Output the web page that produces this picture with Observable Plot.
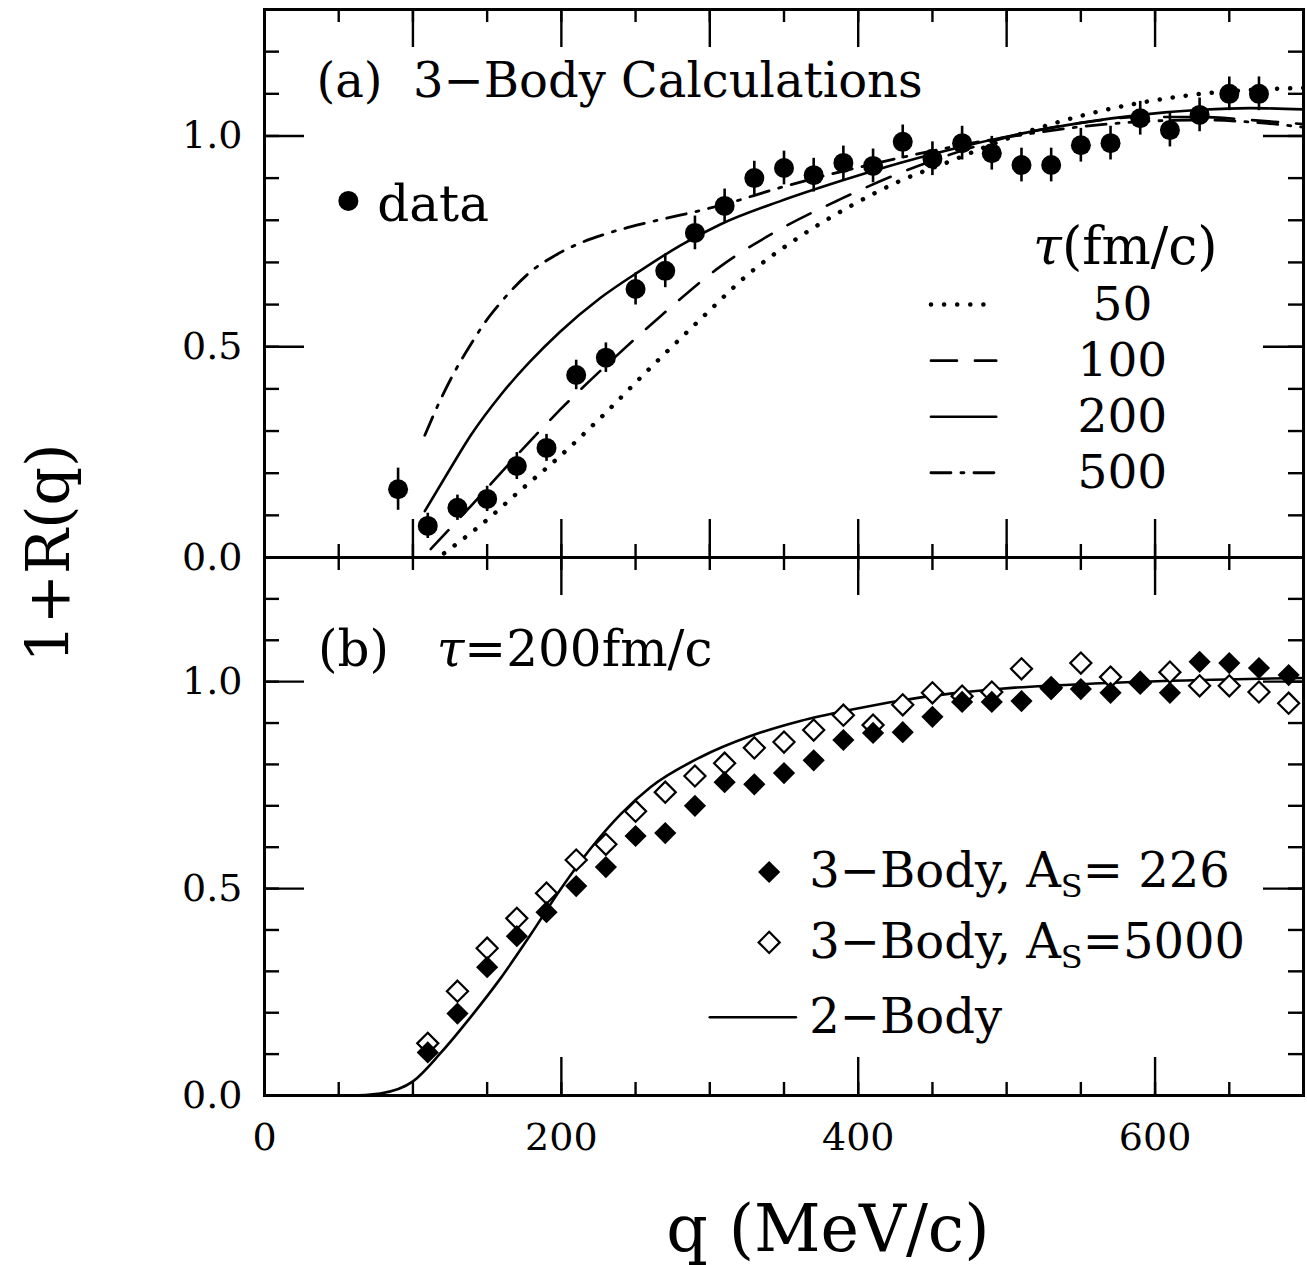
<!DOCTYPE html>
<html><head><meta charset="utf-8">
<script src="https://cdn.jsdelivr.net/npm/d3@7"></script>
<script src="https://cdn.jsdelivr.net/npm/@observablehq/plot@0.6"></script>
<style>
body{margin:0;background:#fff;}
#wrap{position:relative;width:1307px;height:1265px;font-family:"DejaVu Serif",serif;color:#000;overflow:hidden}
#wrap svg{position:absolute;left:0;overflow:visible}
.ttl{position:absolute;white-space:nowrap;font-family:"DejaVu Serif",serif;line-height:1}
</style></head><body><div id="wrap"></div>
<script>
// ---------------- data ----------------
// panel (a): measured data
const qA   = [90,110,130,150,170,190,210,230,250,270,290,310,330,350,370,390,410,430,450,470,490,510,530,550,570,590,610,630,650,670];
const valA = [0.162,0.075,0.118,0.139,0.217,0.260,0.433,0.474,0.637,0.680,0.770,0.834,0.900,0.924,0.907,0.936,0.929,0.986,0.946,0.983,0.959,0.931,0.931,0.978,0.983,1.042,1.014,1.050,1.100,1.100];
const errA = [0.050,0.030,0.030,0.030,0.032,0.032,0.035,0.035,0.038,0.040,0.040,0.040,0.040,0.040,0.040,0.040,0.040,0.040,0.040,0.040,0.040,0.040,0.040,0.040,0.040,0.040,0.040,0.040,0.040,0.040];
// panel (a): 3-body calculations, tau in fm/c
const tauLabels = ["50","100","200","500"];
const q50  = [121,145,172,199,226,260,294,327,361,395,428,462,496,530,563,597,631,664,700];
const v50  = [0.01,0.075,0.158,0.24,0.33,0.45,0.566,0.675,0.762,0.834,0.893,0.94,0.988,1.028,1.059,1.083,1.10,1.109,1.114];
const q100 = [112,139,172,199,233,267,307,348,388,428,469,509,550,590,631,664,700];
const v100 = [0.02,0.122,0.25,0.35,0.465,0.573,0.69,0.78,0.85,0.912,0.964,1.005,1.031,1.045,1.045,1.038,1.028];
const q200 = [108,125,139,159,179,199,226,253,280,307,348,388,428,469,509,550,590,631,664,700];
const v200 = [0.11,0.21,0.29,0.385,0.465,0.535,0.615,0.68,0.74,0.79,0.846,0.893,0.936,0.974,1.005,1.031,1.05,1.062,1.066,1.063];
const q500 = [108,118,128,138,148,158,168,180,195,212,232,255,280,307,348,388,428,469,509,550,590,631,664,700];
const v500 = [0.29,0.37,0.44,0.50,0.555,0.60,0.64,0.68,0.715,0.745,0.77,0.792,0.812,0.835,0.878,0.915,0.948,0.978,1.002,1.022,1.034,1.038,1.033,1.021];
// panel (b): tau = 200 fm/c
const qB     = [110,130,150,170,190,210,230,250,270,290,310,330,350,370,390,410,430,450,470,490,510,530,550,570,590,610,630,650,670,690];
const body226  = [0.104,0.198,0.310,0.385,0.443,0.506,0.552,0.627,0.634,0.700,0.757,0.752,0.779,0.810,0.859,0.876,0.878,0.915,0.951,0.951,0.953,0.982,0.982,0.973,1.000,0.973,1.048,1.045,1.033,1.016];
const body5000 = [0.126,0.252,0.356,0.428,0.489,0.569,0.607,0.687,0.733,0.772,0.803,0.840,0.854,0.883,0.919,0.895,0.944,0.973,0.965,0.975,1.031,0.985,1.045,1.011,0.997,1.023,0.990,0.990,0.975,0.948];
const q2body = [40,58,78,100,119,139,159,179,199,220,240,260,294,327,361,395,428,462,496,563,631,700];
const v2body = [0,0,0.005,0.034,0.104,0.19,0.283,0.387,0.496,0.598,0.68,0.745,0.818,0.868,0.905,0.932,0.954,0.971,0.983,0.996,1.004,1.009];
// axes
const xTickLabels = [0,200,400,600];
const yTickLabels = [0,0.5,1.0];
const xMinorTicks = d3.range(0,701,50);
const xMajor100 = d3.range(100,701,100);
const yMinorTicks = d3.range(0,14).map(i=>i/10);

// ---------------- layout ----------------
const W = 1307, ML = 264, MR = 4;
const FW = W - ML - MR;
const FONT = '"DejaVu Serif", serif';
const styles = {
  "50":  {strokeDasharray:"0.1 13", strokeWidth:4.5, strokeLinecap:"round"},
  "100": {strokeDasharray:"26 18", strokeWidth:2.6},
  "200": {strokeWidth:2.6},
  "500": {strokeDasharray:"20 10 3 10", strokeWidth:2.8}
};
const pts = (qs, vs, extra={}) => qs.map((q,i)=>({q, v: vs[i], ...Object.fromEntries(Object.entries(extra).map(([k,a])=>[k,a[i]]))}));

function frameTicks(FH, majorTop, majorBottom) {
  const TM = 38, Tm = 13, YM = 40, Ym = 15, sw = 2.4;
  return [
    Plot.tickX(xMinorTicks, {x: d=>d, insetTop: FH - Tm, strokeWidth: sw}),
    Plot.tickX(majorBottom, {x: d=>d, insetTop: FH - TM, strokeWidth: sw}),
    Plot.tickX(xMinorTicks, {x: d=>d, insetBottom: FH - Tm, strokeWidth: sw}),
    Plot.tickX(majorTop, {x: d=>d, insetBottom: FH - TM, strokeWidth: sw}),
    Plot.tickY(yMinorTicks, {y: d=>d, insetRight: FW - Ym, strokeWidth: sw}),
    Plot.tickY(yTickLabels, {y: d=>d, insetRight: FW - YM, strokeWidth: sw}),
    Plot.tickY(yMinorTicks, {y: d=>d, insetLeft: FW - Ym, strokeWidth: sw}),
    Plot.tickY(yTickLabels, {y: d=>d, insetLeft: FW - YM, strokeWidth: sw}),
    Plot.frame({strokeWidth: 3})
  ];
}

// ---------------- panel (a) ----------------
const HA = 557, MTA = 9;
const curvesA = [[q50,v50,"50"],[q100,v100,"100"],[q200,v200,"200"],[q500,v500,"500"]];
const legY0 = 0.60, legDy = 0.133;
const legendA = tauLabels.map((t,i)=>({t, y: legY0 - i*legDy}));
const dataPts = pts(qA, valA, {e: errA});

const plotA = Plot.plot({
  width: W, height: HA, marginTop: MTA, marginBottom: 0, marginLeft: ML, marginRight: MR,
  x: {domain: [0,700], axis: null},
  y: {domain: [0,1.3], axis: null},
  style: {fontFamily: FONT, fontSize: "37px", background: "transparent", overflow: "visible"},
  marks: [
    ...curvesA.map(([qs,vs,k]) => Plot.line(pts(qs,vs), {x:"q", y:"v", stroke:"black", curve:"monotone-x", ...styles[k], clip: true})),
    Plot.ruleX(dataPts, {x:"q", y1: d=>d.v-d.e, y2: d=>d.v+d.e, strokeWidth: 2.6, clip: true}),
    Plot.dot(dataPts, {x:"q", y:"v", r: 10, fill:"black", clip: true}),
    ...legendA.map(d => Plot.line([{q:449,v:d.y},{q:493,v:d.y}], {x:"q", y:"v", stroke:"black", ...styles[d.t]})),
    Plot.text(legendA, {x: 578, y: "y", text: "t", fontSize: 47, textAnchor: "middle", lineAnchor: "middle"}),
    Plot.text(["τ(fm/c)"], {x: 580, y: 0.735, fontSize: 52, textAnchor: "middle", lineAnchor: "middle"}),
    Plot.text(["(a)  3−Body Calculations"], {x: 35, y: 1.13, fontSize: 48, textAnchor: "start", lineAnchor: "middle"}),
    Plot.dot([{q:56.5, v:0.846}], {x:"q", y:"v", r: 10, fill:"black"}),
    Plot.text(["data"], {x: 76, y: 0.836, fontSize: 50, textAnchor: "start", lineAnchor: "middle"}),
    Plot.axisY(yTickLabels, {anchor:"left", tickSize: 0, tickPadding: 22, tickFormat: d3.format(".1f"), label: null, fontSize: 38}),
    ...frameTicks(HA - MTA, xMajor100, xMajor100)
  ]
});

// ---------------- panel (b) ----------------
const HB = 708, MBB = 170, TOPB = 557;
const p226 = pts(qB, body226), p5000 = pts(qB, body5000);
const legendB = [
  {kind:"filled", y:0.54, t:"3−Body, A_S= 226"},
  {kind:"open",   y:0.37, t:"3−Body, A_S=5000"},
  {kind:"line",   y:0.189, t:"2−Body"}
];
const plotB = Plot.plot({
  width: W, height: HB, marginTop: 0, marginBottom: MBB, marginLeft: ML, marginRight: MR,
  x: {domain: [0,700], axis: null},
  y: {domain: [0,1.3], axis: null},
  style: {fontFamily: FONT, fontSize: "37px", background: "transparent", overflow: "visible"},
  marks: [
    Plot.line(pts(q2body, v2body), {x:"q", y:"v", stroke:"black", strokeWidth: 2.6, curve:"monotone-x", clip: true}),
    Plot.dot(p5000, {x:"q", y:"v", symbol:"diamond2", r: 9.5, fill:"white", stroke:"black", strokeWidth: 2.2, clip: true}),
    Plot.dot(p226, {x:"q", y:"v", symbol:"diamond2", r: 10, fill:"black", clip: true}),
    Plot.dot(legendB.filter(d=>d.kind==="filled"), {x: 340, y:"y", symbol:"diamond2", r: 10, fill:"black"}),
    Plot.dot(legendB.filter(d=>d.kind==="open"), {x: 340, y:"y", symbol:"diamond2", r: 9.5, fill:"white", stroke:"black", strokeWidth: 2.2}),
    Plot.line([{q:300,v:0.189},{q:358,v:0.189}], {x:"q", y:"v", stroke:"black", strokeWidth: 2.6}),
    Plot.text(legendB, {x: 367, y: "y", text: "t", fontSize: 48, textAnchor: "start", lineAnchor: "middle"}),
    Plot.text(["(b)   τ=200fm/c"], {x: 36, y: 1.077, fontSize: 50, textAnchor: "start", lineAnchor: "middle"}),
    Plot.axisY(yTickLabels, {anchor:"left", tickSize: 0, tickPadding: 22, tickFormat: d3.format(".1f"), label: null, fontSize: 38}),
    Plot.axisX(xTickLabels, {anchor:"bottom", tickSize: 0, tickPadding: 28, label: null, fontSize: 38}),
    ...frameTicks(HB - MBB, xMajor100.filter(d=>d%200===0), xMajor100.filter(d=>d%200===0))
  ]
});

// rich text: subscripts and italic tau
function enrich(svg) {
  d3.select(svg).selectAll("text").each(function() {
    const t = this.textContent;
    if (!t.includes("_S") && !t.includes("τ")) return;
    const el = d3.select(this);
    el.text("");
    const parts = t.split(/(_S|τ)/);
    let shifted = false;
    parts.forEach(p => {
      if (!p) return;
      if (p === "_S") {
        el.append("tspan").attr("font-size", "32px").attr("dy", "10").text("S");
        shifted = true;
      } else if (p === "τ") {
        el.append("tspan").attr("font-style", "italic").text("τ");
      } else {
        const ts = el.append("tspan").text(p);
        if (shifted) { ts.attr("dy", "-10"); shifted = false; }
      }
    });
  });
}
enrich(plotA); enrich(plotB);

const wrap = document.getElementById("wrap");
plotA.style.top = "0px";
plotB.style.top = TOPB + "px";
wrap.appendChild(plotA);
wrap.appendChild(plotB);

// axis titles
const yl = document.createElement("div");
yl.className = "ttl"; yl.textContent = "1+R(q)";
yl.style.fontSize = "60px";
yl.style.left = "48px"; yl.style.top = "553px";
yl.style.transform = "translate(-50%,-50%) rotate(-90deg)";
wrap.appendChild(yl);
const xl = document.createElement("div");
xl.className = "ttl"; xl.textContent = "q (MeV/c)";
xl.style.fontSize = "65px";
xl.style.left = "828px"; xl.style.top = "1228px";
xl.style.transform = "translate(-50%,-50%)";
wrap.appendChild(xl);
</script>
</body></html>
